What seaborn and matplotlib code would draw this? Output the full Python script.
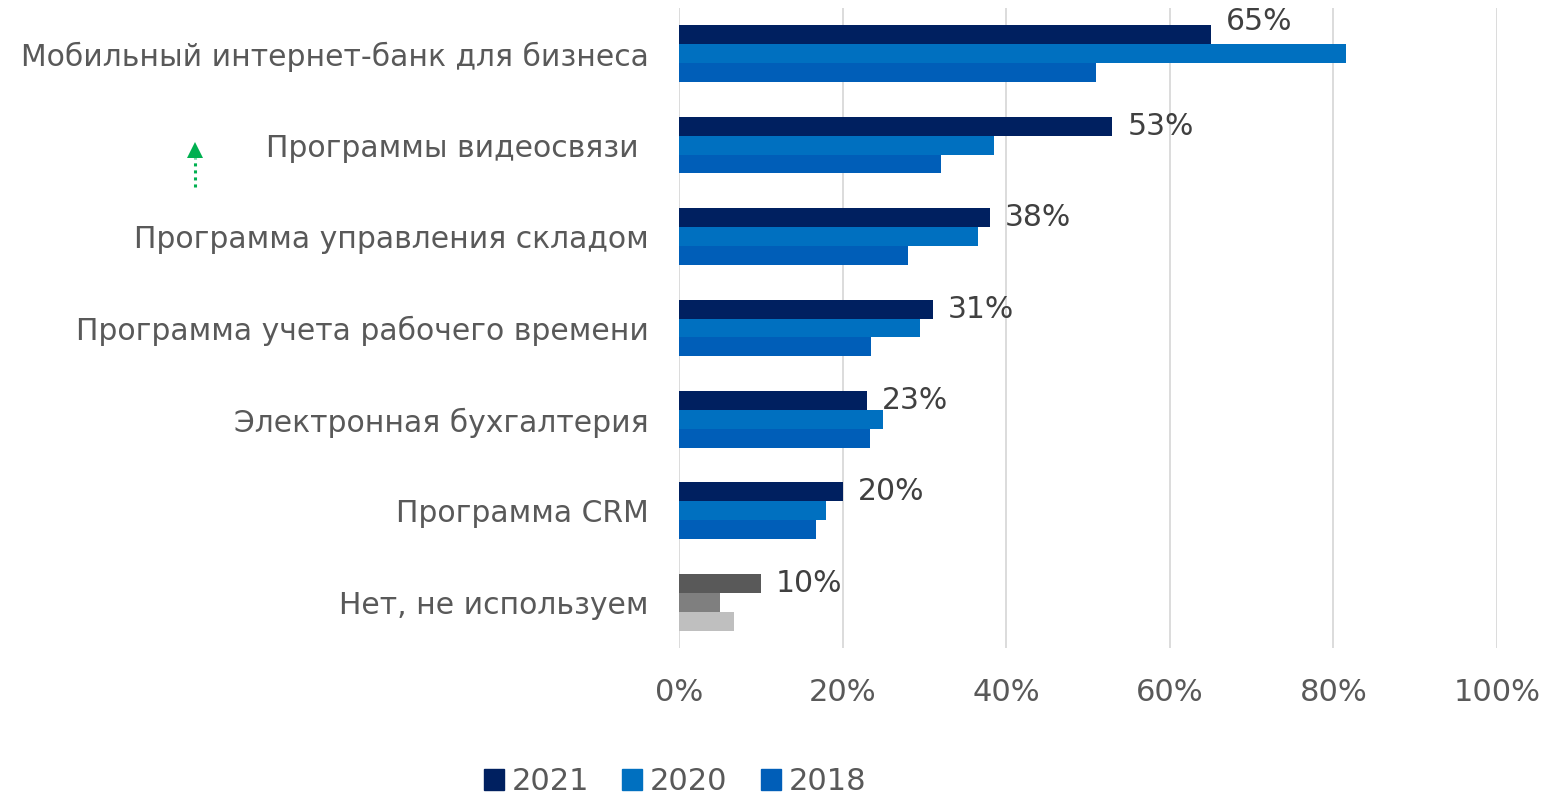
import numpy as np
import pandas as pd
import matplotlib.pyplot as plt
import seaborn as sns
from matplotlib.patches import Patch, Polygon
from matplotlib.lines import Line2D

categories = [
    "Мобильный интернет-банк для бизнеса",
    "Программы видеосвязи ",
    "Программа управления складом",
    "Программа учета рабочего времени",
    "Электронная бухгалтерия",
    "Программа CRM",
    "Нет, не используем",
]
years = ["2021", "2020", "2018"]
values_2021 = [65, 53, 38, 31, 23, 20, 10]
values_2020 = [81.5, 38.5, 36.5, 29.5, 25, 18, 5]
values_2018 = [51, 32, 28, 23.5, 23.3, 16.8, 6.7]
labels_2021 = ["65%", "53%", "38%", "31%", "23%", "20%", "10%"]

year_colors = ["#002060", "#0070C0", "#005EB8"]
grey_colors = ["#595959", "#7F7F7F", "#BFBFBF"]

df = pd.DataFrame({
    "category": categories * 3,
    "year": [y for y in years for _ in categories],
    "value": values_2021 + values_2020 + values_2018,
})

sns.set_style("white")
plt.rcParams["font.family"] = ["DejaVu Sans"]

fig = plt.figure(figsize=(15.59, 7.96), dpi=100)
ax = fig.add_axes([0.4355, 0.186, 0.5247, 0.804])

sns.barplot(data=df, x="value", y="category", hue="year", hue_order=years,
            order=categories, palette=year_colors, orient="h", width=0.62,
            saturation=1, legend=False, linewidth=0, ax=ax)

# last category drawn in greys
for cont, grey in zip(ax.containers, grey_colors):
    cont.patches[-1].set_facecolor(grey)

ax.set_xlim(0, 100)
ax.set_xticks(np.arange(0, 101, 20))
ax.set_xticklabels([f"{t}%" for t in range(0, 101, 20)])
ax.grid(axis="x", color="#D9D9D9", linewidth=1.3)
ax.set_axisbelow(True)
for s in ax.spines.values():
    s.set_visible(False)
ax.tick_params(axis="x", length=0, pad=22, labelsize=22, labelcolor="#595959")
ax.tick_params(axis="y", length=0, pad=22, labelsize=21.5, labelcolor="#595959")
ax.set_xlabel("")
ax.set_ylabel("")

# value labels for 2021
for i, (bar, lab) in enumerate(zip(ax.containers[0].patches, labels_2021)):
    yc = bar.get_y() + bar.get_height() / 2
    if i == 0:
        yc -= 0.15
    ax.annotate(lab, (bar.get_width(), yc), xytext=(11, 0),
                textcoords="offset points", va="center", ha="left",
                fontsize=21.5, color="#404040")

# green growth arrow: dotted shaft + solid head
W, H = 1559, 796
fig.add_artist(Line2D([195 / W, 195 / W], [1 - 187 / H, 1 - 158 / H],
                      transform=fig.transFigure, color="#00B050",
                      linewidth=2.2, linestyle=(0, (1, 1.3))))
fig.add_artist(Polygon([(187 / W, 1 - 158 / H), (203 / W, 1 - 158 / H),
                        (195 / W, 1 - 142 / H)], closed=True,
                       transform=fig.transFigure, facecolor="#00B050",
                       edgecolor="none"))

handles = [Patch(facecolor=c, edgecolor=c) for c in year_colors]
fig.legend(handles, years, loc="center", bbox_to_anchor=(0.433, 0.018),
           ncol=3, frameon=False, fontsize=22, labelcolor="#595959",
           handlelength=0.65, handleheight=0.65, handletextpad=0.25,
           columnspacing=1.1)

fig.savefig("out.png", dpi=100)
